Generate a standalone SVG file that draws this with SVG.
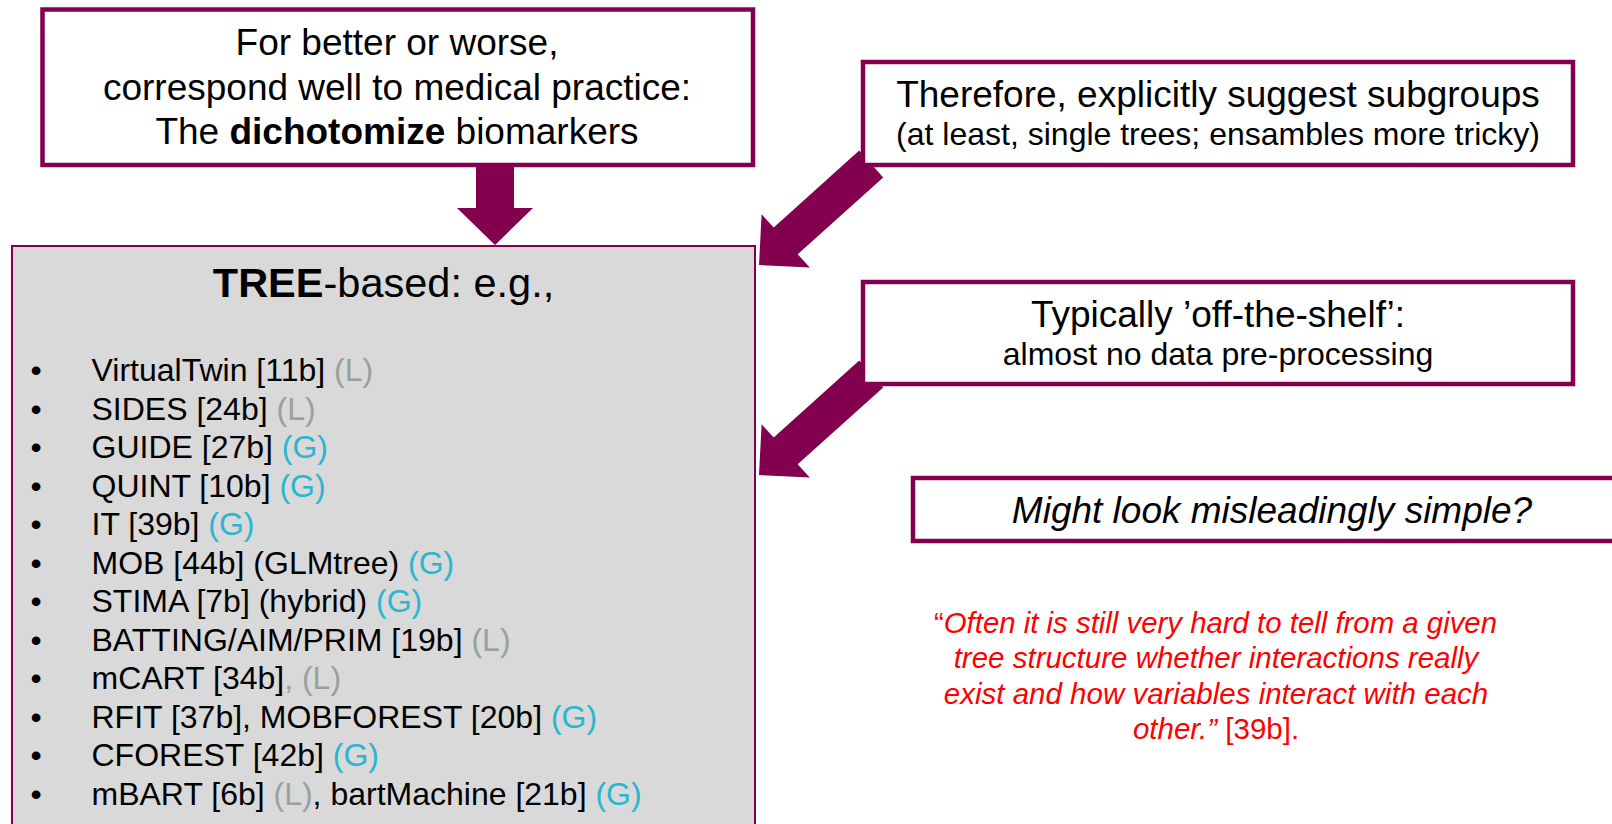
<svg xmlns="http://www.w3.org/2000/svg" width="1612" height="824" viewBox="0 0 1612 824">
  <style>
    text { font-family: "Liberation Sans", Arial, sans-serif; fill: #000; }
    .box { fill: #fff; stroke: #83004f; stroke-width: 4.5; }
    .panel { fill: #d9d9d9; stroke: #83004f; stroke-width: 2; }
    .arrow { fill: #83004f; }
    .c { text-anchor: middle; }
    .big { font-size: 37px; }
    .small { font-size: 32px; }
    .item { font-size: 32px; }
    .L { fill: #97a1a1; }
    .G { fill: #2ab6d0; }
    .quote { font-size: 29.5px; fill: #ff0000; }
    .quote tspan { fill: #ff0000; }
  </style>

  <rect width="1612" height="824" fill="#fff"/>

  <!-- connectors: block arrows -->
  <g id="connectors">
    <polygon class="arrow" points="476,165 514,165 514,208 533,208 495,245 457,208 476,208"/>
    <polygon class="arrow" points="759,265 809.8,267.6 797.7,254.3 883.2,177.4 859.2,150.6 773.7,227.5 761.6,214.2"/>
    <polygon class="arrow" points="759,475 809.8,477.6 797.7,464.3 883.2,387.4 859.2,360.6 773.7,437.5 761.6,424.2"/>
  </g>

  <!-- practice box -->
  <g id="node-practice">
    <rect class="box" x="42.5" y="9.5" width="710.5" height="155.5"/>
    <text class="c big" x="397" y="55">For better or worse,</text>
    <text class="c big" x="397" y="100">correspond well to medical practice:</text>
    <text class="c big" x="397" y="144">The <tspan font-weight="bold">dichotomize</tspan> biomarkers</text>
  </g>

  <!-- subgroups box -->
  <g id="node-subgroups">
    <rect class="box" x="863" y="62" width="710" height="103"/>
    <text class="c big" x="1218" y="107">Therefore, explicitly suggest subgroups</text>
    <text class="c small" x="1218" y="145">(at least, single trees; ensambles more tricky)</text>
  </g>

  <!-- off-the-shelf box -->
  <g id="node-offshelf">
    <rect class="box" x="863" y="282" width="710" height="102"/>
    <text class="c big" x="1218" y="327">Typically ’off-the-shelf’:</text>
    <text class="c small" x="1218" y="365">almost no data pre-processing</text>
  </g>

  <!-- simplicity box -->
  <g id="node-simple">
    <rect class="box" x="913" y="478" width="720" height="63" stroke-width="5"/>
    <text class="c big" x="1272" y="523" font-style="italic">Might look misleadingly simple?</text>
  </g>

  <!-- tree-based methods panel -->
  <g id="node-tree">
    <rect class="panel" x="12" y="246" width="743" height="600"/>
    <text class="c" x="383.5" y="297" font-size="41.5"><tspan font-weight="bold">TREE</tspan>-based: e.g.,</text>
    <g class="item">
      <text x="36" y="381" class="c">•</text>
      <text x="91.5" y="381">VirtualTwin [11b] <tspan class="L">(L)</tspan></text>
      <text x="36" y="419.5" class="c">•</text>
      <text x="91.5" y="419.5">SIDES [24b] <tspan class="L">(L)</tspan></text>
      <text x="36" y="458" class="c">•</text>
      <text x="91.5" y="458">GUIDE [27b] <tspan class="G">(G)</tspan></text>
      <text x="36" y="496.5" class="c">•</text>
      <text x="91.5" y="496.5">QUINT [10b] <tspan class="G">(G)</tspan></text>
      <text x="36" y="535" class="c">•</text>
      <text x="91.5" y="535">IT [39b] <tspan class="G">(G)</tspan></text>
      <text x="36" y="573.5" class="c">•</text>
      <text x="91.5" y="573.5">MOB [44b] (GLMtree) <tspan class="G">(G)</tspan></text>
      <text x="36" y="612" class="c">•</text>
      <text x="91.5" y="612">STIMA [7b] (hybrid) <tspan class="G">(G)</tspan></text>
      <text x="36" y="650.5" class="c">•</text>
      <text x="91.5" y="650.5">BATTING/AIM/PRIM [19b] <tspan class="L">(L)</tspan></text>
      <text x="36" y="689" class="c">•</text>
      <text x="91.5" y="689">mCART [34b]<tspan class="L">, (L)</tspan></text>
      <text x="36" y="727.5" class="c">•</text>
      <text x="91.5" y="727.5">RFIT [37b], MOBFOREST [20b] <tspan class="G">(G)</tspan></text>
      <text x="36" y="766" class="c">•</text>
      <text x="91.5" y="766">CFOREST [42b] <tspan class="G">(G)</tspan></text>
      <text x="36" y="804.5" class="c">•</text>
      <text x="91.5" y="804.5">mBART [6b] <tspan class="L">(L)</tspan>, bartMachine [21b] <tspan class="G">(G)</tspan></text>
    </g>
  </g>

  <!-- quotation -->
  <g id="node-quote" class="quote">
    <text class="quote" x="934" y="633" textLength="563" lengthAdjust="spacingAndGlyphs">“<tspan font-style="italic">Often it is still very hard to tell from a given</tspan></text>
    <text class="c quote" x="1216" y="668" font-style="italic">tree structure whether interactions really</text>
    <text class="c quote" x="1216" y="704" font-style="italic">exist and how variables interact with each</text>
    <text class="c quote" x="1216" y="739"><tspan font-style="italic">other.”</tspan> [39b].</text>
  </g>
</svg>
